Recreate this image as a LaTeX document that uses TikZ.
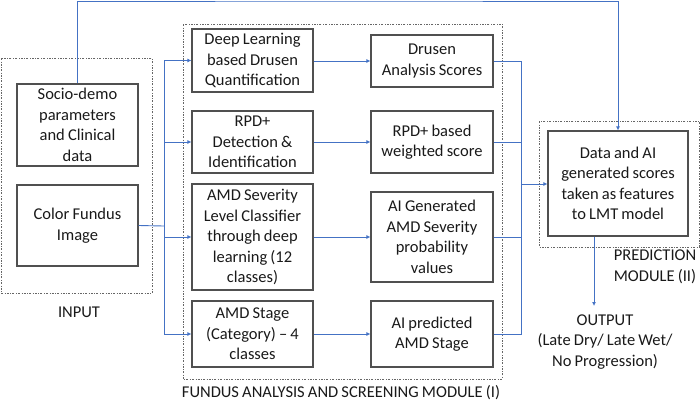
\documentclass[tikz,border=0pt]{standalone}
\usepackage{fontspec}
\setmainfont{Carlito}[WordSpace=0.85]
\usetikzlibrary{arrows.meta}
\definecolor{lineblue}{HTML}{4472C4}
\definecolor{boxgray}{HTML}{505050}
\begin{document}
\begin{tikzpicture}[x=1pt,y=-1pt,
  every node/.style={font=\fontsize{16.5}{20.5}\selectfont, text=black!90},
  box/.style={draw=boxgray, line width=1.1pt, rectangle, align=center, inner sep=1pt},
  modbox/.style={draw=black!60, line width=0.8pt, dash pattern=on 2pt off 1.5pt on 0.6pt off 1.5pt},
  conn/.style={draw=lineblue, line width=0.9pt},
  arr/.style={conn, -{Latex[length=4pt,width=4pt]}},
  lbl/.style={align=center}]
\useasboundingbox (0,0) rectangle (700,402);
% module frames
\draw[modbox] (1,58) rectangle (152,293);
\draw[modbox] (183,24) rectangle (502,379);
\draw[modbox] (539,121) rectangle (699,247);
% input boxes
\node[box, minimum width=121, minimum height=82] (soc) at (77.5,125) {Socio-demo\\parameters\\and Clinical\\data};
\node[box, minimum width=121, minimum height=81] (cfi) at (77.5,225.5) {Color Fundus\\Image};
% left column
\node[box, minimum width=121, minimum height=63] (L1) at (252.5,60.5) {Deep Learning\\based Drusen\\Quantification};
\node[box, minimum width=121, minimum height=62] (L2) at (252.5,142) {RPD+\\Detection \&\\Identification};
\node[box, minimum width=121, minimum height=106] (L3) at (252.5,237) {AMD Severity\\Level Classifier\\through deep\\learning (12\\classes)};
\node[box, minimum width=121, minimum height=66] (L4) at (252.5,334) {AMD Stage\\(Category) -- 4\\classes};
% right column
\node[box, minimum width=122, minimum height=52] (R1) at (432,61) {Drusen\\Analysis Scores};
\node[box, minimum width=122, minimum height=62] (R2) at (432,142) {RPD+ based\\weighted score};
\node[box, minimum width=122, minimum height=90] (R3) at (432,237) {AI Generated\\AMD Severity\\probability\\values};
\node[box, minimum width=122, minimum height=66] (R4) at (432,334) {AI predicted\\AMD Stage};
% prediction
\node[box, minimum width=140, minimum height=105] (P) at (618,183.5) {Data and AI\\generated scores\\taken as features\\to LMT model};
% labels
\node[lbl] (inlbl) at (79,312) {INPUT};
\node[lbl] (fulbl) at (341,393) {FUNDUS ANALYSIS AND SCREENING MODULE (I)};
\node[lbl] (prlbl) at (655,267) {PREDICTION\\MODULE (II)};
\node[lbl] (out) at (605,342) {OUTPUT\\(Late Dry/ Late Wet/\\No Progression)};
% connectors
\coordinate (top) at (350,1);
\draw[arr] (soc.north) |- (top) -| (P.north);
\coordinate (bx) at (164,226);
\draw[conn] (cfi.east) -- (bx);
\draw[arr] (bx) |- (L1.west);
\draw[arr] (bx) |- (L2.west);
\draw[arr] (bx) |- (L3.west);
\draw[arr] (bx) |- (L4.west);
\draw[arr] (L1.east |- R1.west) -- (R1.west);
\draw[arr] (L2.east) -- (R2.west);
\draw[arr] (L3.east) -- (R3.west);
\draw[arr] (L4.east) -- (R4.west);
\coordinate (bx2) at (521,184);
\draw[conn] (R1.east) -| (bx2);
\draw[conn] (R2.east) -| (bx2);
\draw[conn] (R3.east) -| (bx2);
\draw[conn] (R4.east) -| (bx2);
\draw[arr] (bx2) -- (P.west |- bx2);
\coordinate (oend) at (594,306);
\draw[arr] (P.south -| oend) -- (oend);
\end{tikzpicture}
\end{document}
